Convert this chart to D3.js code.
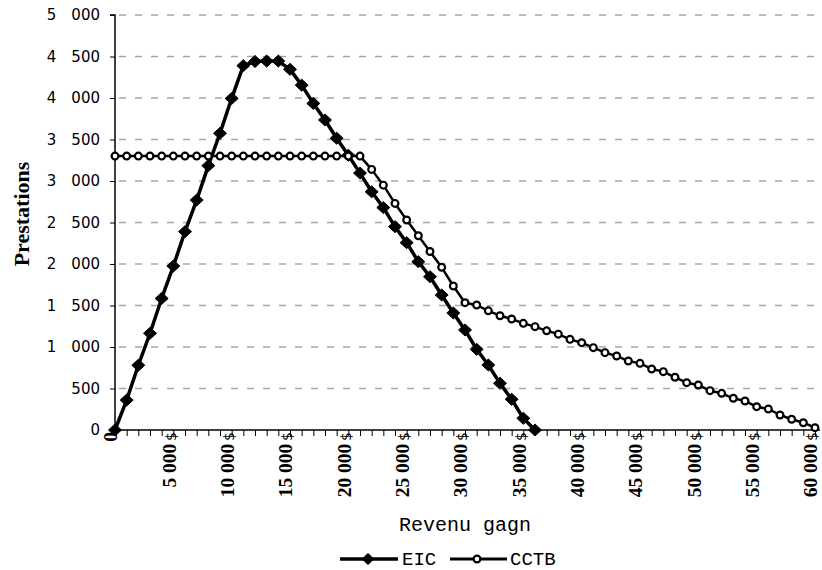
<!DOCTYPE html>
<html>
<head>
<meta charset="utf-8">
<script src="https://cdn.jsdelivr.net/npm/d3@7/dist/d3.min.js"></script>
<style>
  html, body { margin: 0; padding: 0; background: #fff; }
  svg { display: block; }
</style>
</head>
<body>
<svg id="chart" width="822" height="570"></svg>
<script>
// ---- data ----
const incomes = d3.range(0, 61).map(i => i * 1000); // earned income categories (every 1 000)
const eicValues = [0, 360, 780, 1165, 1585, 1975, 2390, 2770, 3185, 3575, 3995, 4390, 4440, 4445, 4445, 4345, 4155, 3935, 3735, 3515,
  3310, 3095, 2870, 2680, 2450, 2257, 2028, 1847, 1627, 1410, 1205, 972, 783, 562, 370, 141, 0];
const cctbValues = [3300, 3300, 3300, 3300, 3300, 3300, 3300, 3300, 3300, 3300, 3300, 3300, 3300, 3300, 3300, 3300, 3300, 3300, 3300, 3300,
  3300, 3300, 3140, 2950, 2730, 2530, 2340, 2150, 1960, 1735, 1534, 1506, 1436, 1377, 1337, 1285, 1245, 1195, 1155, 1092,
  1052, 992, 932, 892, 831, 803, 735, 703, 635, 570, 542, 474, 442, 382, 349, 281, 253, 181, 129, 88, 28];
const yTicks = [0, 500, 1000, 1500, 2000, 2500, 3000, 3500, 4000, 4500, 5000];
const yTickLabels = ["0", "500", "1\u2003000", "1\u2003500", "2\u2003000", "2\u2003500", "3\u2003000", "3\u2003500", "4\u2003000", "4\u2003500", "5\u2003000"];
const xTicks = [0, 5000, 10000, 15000, 20000, 25000, 30000, 35000, 40000, 45000, 50000, 55000, 60000];
const xTickLabels = ["0", "5 000", "10 000", "15 000", "20 000", "25 000", "30 000", "35 000", "40 000", "45 000", "50 000", "55 000", "60 000"];
const seriesNames = ["EIC", "CCTB"];
const xTitle = "Revenu gagn";
const yTitle = "Prestations";

// ---- layout ----
const svg = d3.select("#chart");
const x = d3.scaleLinear().domain([0, 60000]).range([115, 815]);
const y = d3.scaleLinear().domain([0, 5000]).range([430, 15]);

// gridlines
svg.append("g").selectAll("line").data(yTicks.filter(v => v > 0)).join("line")
  .attr("x1", 117).attr("x2", 820)
  .attr("y1", d => y(d)).attr("y2", d => y(d))
  .attr("stroke", "#a6a6a6").attr("stroke-width", 1.3)
  .attr("stroke-dasharray", "7,9").attr("stroke-dashoffset", -2);

// y axis
const yAxis = d3.axisLeft(y).tickValues(yTicks).tickSize(5).tickPadding(10)
  .tickFormat((d, i) => yTickLabels[i]);
const gy = svg.append("g").attr("transform", "translate(115,0)").call(yAxis);
gy.select(".domain").attr("stroke", "#000").attr("stroke-width", 1.5).attr("d", `M-5,${y(5000)}H0V${y(0)}`);
gy.selectAll(".tick line").attr("stroke", "#000");
gy.selectAll("text").attr("font-family", "DejaVu Sans").attr("font-size", 15).attr("fill", "#000");

// x axis (minor ticks every 1000)
const xAxis = d3.axisBottom(x).tickValues(incomes).tickSize(6).tickFormat("");
const gx = svg.append("g").attr("transform", "translate(0,430)").call(xAxis);
gx.select(".domain").attr("stroke", "#000").attr("stroke-width", 1.5).attr("d", `M${x(0)},0H820`);
gx.selectAll(".tick line").attr("stroke", "#000");

// x labels (rotated)
const xl = svg.append("g").selectAll("text").data(xTicks).join("text")
  .attr("transform", d => `translate(${x(d) - 4.5},${432}) rotate(-90)`)
  .attr("text-anchor", "end").attr("dy", "0.35em")
  .attr("font-family", "Liberation Serif").attr("font-weight", "bold").attr("font-size", 19.5)
  .attr("fill", "#000");
xl.append("tspan").text((d, i) => xTickLabels[i]);
xl.filter(d => d > 0).append("tspan").attr("font-weight", "normal").attr("font-size", 14).attr("font-family", "DejaVu Sans").text("\u202F$");

// titles
svg.append("text").attr("x", 465).attr("y", 531).attr("text-anchor", "middle")
  .attr("font-family", "Liberation Mono").attr("font-size", 20).attr("fill", "#000").text(xTitle);
svg.append("text").attr("transform", "translate(29,214) rotate(-90)").attr("text-anchor", "middle")
  .attr("font-family", "Liberation Serif").attr("font-weight", "bold").attr("font-size", 22).attr("fill", "#000").text(yTitle);

// lines
const line = d3.line().x((d, i) => x(incomes[i])).y(d => y(d));
svg.append("path").datum(eicValues).attr("d", line).attr("fill", "none").attr("stroke", "#000").attr("stroke-width", 3.5).attr("stroke-linejoin", "round");
svg.append("path").datum(cctbValues).attr("d", line).attr("fill", "none").attr("stroke", "#000").attr("stroke-width", 2.5).attr("stroke-linejoin", "round");

const diamond = "M0,-6L6.5,0L0,6L-6.5,0Z";
svg.append("g").selectAll("path").data(eicValues).join("path")
  .attr("d", diamond).attr("transform", (d, i) => `translate(${x(incomes[i])},${y(d)})`)
  .attr("fill", "#000").attr("stroke", "#000").attr("stroke-width", 1);
svg.append("g").selectAll("circle").data(cctbValues).join("circle")
  .attr("cx", (d, i) => x(incomes[i])).attr("cy", d => y(d)).attr("r", 3.4)
  .attr("fill", "#fff").attr("stroke", "#000").attr("stroke-width", 2.2);

// legend
const leg = svg.append("g");
leg.append("line").attr("x1", 340).attr("x2", 398).attr("y1", 559).attr("y2", 559).attr("stroke", "#000").attr("stroke-width", 3.5);
leg.append("path").attr("d", diamond).attr("transform", "translate(368,559)").attr("fill", "#000");
leg.append("text").attr("x", 402).attr("y", 565).attr("font-family", "Liberation Mono").attr("font-size", 19).attr("fill", "#000").text(seriesNames[0]);
leg.append("line").attr("x1", 450).attr("x2", 507).attr("y1", 559).attr("y2", 559).attr("stroke", "#000").attr("stroke-width", 3);
leg.append("circle").attr("cx", 477).attr("cy", 559).attr("r", 3.4).attr("fill", "#fff").attr("stroke", "#000").attr("stroke-width", 2.2);
leg.append("text").attr("x", 510).attr("y", 565).attr("font-family", "Liberation Mono").attr("font-size", 19).attr("fill", "#000").text(seriesNames[1]);
</script>
</body>
</html>
